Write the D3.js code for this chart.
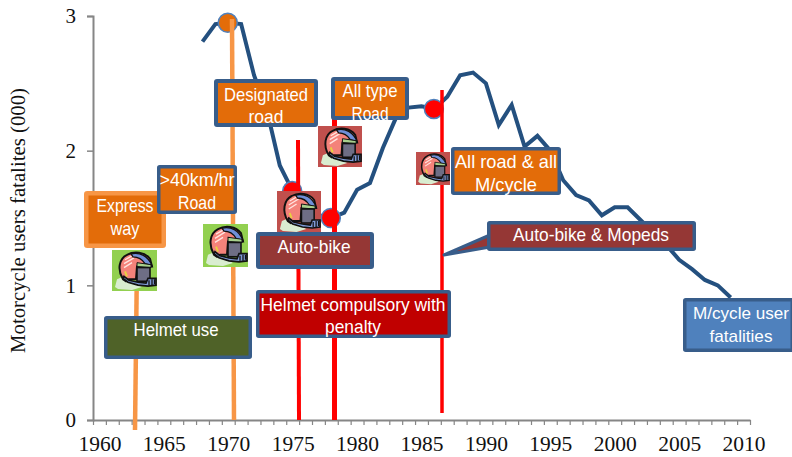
<!DOCTYPE html>
<html><head><meta charset="utf-8">
<style>html,body{margin:0;padding:0;background:#fff}svg{display:block}</style>
<script src="https://cdn.jsdelivr.net/npm/d3@7"></script></head>
<body><svg id="c" width="792" height="457"></svg>
<script>
const lineYears=[1968,1969,1970,1971,1972,1973,1974,1975,1976,1977,1978,1979,1980,1981,1982,1983,1984,1985,1986,1987,1988,1989,1990,1991,1992,1993,1994,1995,1996,1997,1998,1999,2000,2001,2002,2003,2004,2005,2006,2007,2008,2009];
const fatalities=[2.81,2.94,2.95,2.94,2.56,2.3,1.89,1.7,1.6,1.52,1.5,1.54,1.71,1.76,2.02,2.24,2.32,2.33,2.31,2.4,2.56,2.58,2.5,2.19,2.34,2.03,2.11,2.0,1.78,1.67,1.63,1.52,1.58,1.58,1.485,1.39,1.3,1.19,1.12,1.04,1.0,0.91];
const yTicks=[0,1,2,3];
const yearLabels=[1960,1965,1970,1975,1980,1985,1990,1995,2000,2005,2010];
const markerYears=[1970,1975,1978,1986];
const yTitle="Motorcycle users fatalites (000)";

const svg=d3.select("#c");
const x=d3.scaleLinear().domain([1960,2011]).range([93,750]);
const xc=d=>x(d+0.5);
const y=d3.scaleLinear().domain([0,3]).range([420,16]);
const valueOf=yr=>fatalities[lineYears.indexOf(yr)];
const AXC="#868686",SERIF="'Liberation Serif',serif",SANS="'Liberation Sans',sans-serif";

// axes
const gy=svg.append("g").attr("transform","translate(93,0)").call(d3.axisLeft(y).tickValues(yTicks).tickFormat(d3.format("d")).tickSize(6).tickPadding(11));
const gx=svg.append("g").attr("transform","translate(0,420)").call(d3.axisBottom(x).tickValues(d3.range(1960,2012)).tickFormat("").tickSize(5).tickSizeOuter(0));
const gl=svg.append("g").attr("transform","translate(0,420)").call(d3.axisBottom(d3.scalePoint().domain(yearLabels).range([xc(1960),xc(2010)])).tickSize(0).tickPadding(16));
gl.select(".domain").remove();
[gy,gx].forEach(g=>{g.selectAll("path,line").attr("stroke",AXC).attr("stroke-width",2);});
gy.selectAll("line").attr("stroke-width",1.5);gx.selectAll("line").attr("stroke-width",1.2);
[gy,gl].forEach(g=>g.selectAll("text").attr("font-family",SERIF).attr("font-size",21).attr("fill","#111"));
gl.selectAll("text").attr("textLength",43).attr("lengthAdjust","spacingAndGlyphs");
svg.append("text").attr("transform","translate(25,220.5) rotate(-90)").attr("text-anchor","middle")
 .attr("font-family",SERIF).attr("font-size",20).attr("textLength",265).attr("lengthAdjust","spacingAndGlyphs").attr("fill","#111").text(yTitle);

// series
svg.append("path").datum(lineYears).attr("fill","none").attr("stroke","#24507F").attr("stroke-width",4)
 .attr("stroke-linejoin","miter").attr("d",d3.line().x(xc).y((d,i)=>y(fatalities[i])));

// markers
svg.selectAll("circle.m").data(markerYears).join("circle").attr("class","m")
 .attr("cx",d=>xc(d)-0.5).attr("cy",d=>y(valueOf(d))).attr("r",9.5)
 .attr("fill",d=>d===1970?"#E36C09":"#FF0000").attr("stroke","#4F81BD").attr("stroke-width",1.5);

// vertical policy lines
function vline(x1,y1,x2,y2,c,w){svg.append("line").attr("x1",x1).attr("y1",y1).attr("x2",x2).attr("y2",y2).attr("stroke",c).attr("stroke-width",w);}
vline(136.7,285,135,430,"#F79646",4.5);
vline(232,19,234,420,"#F79646",4.5);
vline(298,140,299,420,"#FF0000",4);
vline(334.5,100,334.5,420,"#FF0000",5);
vline(442,90,442,413,"#FF0000",3.5);

// helmet icon
function helmet(x0,y0,w,h,bg){
 const g=svg.append("g").attr("transform",`translate(${x0},${y0})`);
 g.append("rect").attr("width",w).attr("height",h).attr("fill",bg);
 const s=g.append("g").attr("transform",`scale(${w/45},${h/42})`);
 s.append("path").attr("d","M3 38 L5 30 L12 27 L22 34 L30 38 L20 41 L6 40Z").attr("fill","#D9EDD0");
 s.append("path").attr("d","M11 30 C5 20 7 9 15 5 C22 1 33 2 38 9 L40 17 L25 17 L24 30 L17 30 L14 32Z").attr("fill","#F4827A").attr("stroke","#111").attr("stroke-width",2);
 s.append("path").attr("d","M13 10 L20 6 M12 14 L22 8 M12 18 L20 13").attr("stroke","#FFE4E0").attr("stroke-width",1.4).attr("fill","none");
 s.append("path").attr("d","M19 4 C28 2 36 6 40 16 L33 14 C30 9 26 7 21 7Z").attr("fill","#6F8FD8").attr("stroke","#111").attr("stroke-width",1.3);
 s.append("path").attr("d","M25 13 L39 15 L39 18 L25 17Z").attr("fill","#A8D08D").attr("stroke","#111").attr("stroke-width",1);
 s.append("rect").attr("x",25).attr("y",18).attr("width",13).attr("height",14).attr("fill","#6E6E85").attr("stroke","#111").attr("stroke-width",1.6);
 s.append("path").attr("d","M12 27 L17 31 L26 33 L34 34 L36 29 L44 29 L44 36 L36 37 L26 36 L16 33 L11 29Z").attr("fill","#7F9BD8").attr("stroke","#111").attr("stroke-width",1.7);
 s.append("path").attr("d","M37 31 L37 36 M40 30 L40 36 M42.5 30 L42.5 35").attr("stroke","#111").attr("stroke-width",1.3);
 s.append("path").attr("d","M13 22 L15 27").attr("stroke","#E8D040").attr("stroke-width",2);
}
helmet(112,250,45,41,"#92D050");
helmet(203,224,45,43,"#92D050");
helmet(277,191,44,42,"#C0504D");
helmet(318,126,44,41,"#C0504D");
helmet(416,152,34,33,"#C0504D");

// callout pointer
svg.append("path").attr("d","M490 235 L444 255 L490 247Z").attr("fill","#953735").attr("stroke","#385D8A").attr("stroke-width",3).attr("stroke-linejoin","round");

// boxes
function box(x0,y0,x1,y1,fill,stroke,sw,lines,cx,bases,lens,fs){
 const inset=sw/2;
 svg.append("rect").attr("x",x0+inset).attr("y",y0+inset).attr("width",x1-x0-sw).attr("height",y1-y0-sw)
  .attr("fill",fill).attr("stroke",stroke).attr("stroke-width",sw).attr("rx",1);
 lines.forEach((t,i)=>svg.append("text").attr("x",cx).attr("y",bases[i]).attr("text-anchor","middle")
  .attr("font-family",SANS).attr("font-size",fs||18.5).attr("textLength",lens[i]).attr("lengthAdjust","spacingAndGlyphs").attr("fill","#fff").text(t));
}
const B="#385D8A",O="#E36C09";
box(84,191,166,248,O,"#F79646",4.5,["Express","way"],125,[212,235],[57,29]);
box(157,165,237,214,O,B,3.5,[">40km/hr","Road"],197,[186,209],[75,38]);
box(214,79,318,127,O,B,4,["Designated","road"],266,[101,123],[84,35]);
box(331,77,409,120,O,B,4,["All type","Road"],370,[97,120],[55,37]);
box(451,147,561,195,O,B,3.5,["All road & all","M/cycle"],506,[168,191],[102,62]);
box(487,221,696,251,"#953735",B,3.5,["Auto-bike & Mopeds"],591,[241],[156]);
box(683,298,794,352,"#4F81BD",B,3.5,["M/cycle user","fatalities"],741,[319,342],[96,63],17);
box(256,232,374,269,"#953735",B,4,["Auto-bike"],314,[253],[73]);
box(256,290,451,338,"#C00000",B,3.5,["Helmet compulsory with","penalty"],353,[311,333],[185,56]);
box(104,316,252,359,"#4F6228",B,3.5,["Helmet use"],176,[336],[85]);
</script></body></html>
